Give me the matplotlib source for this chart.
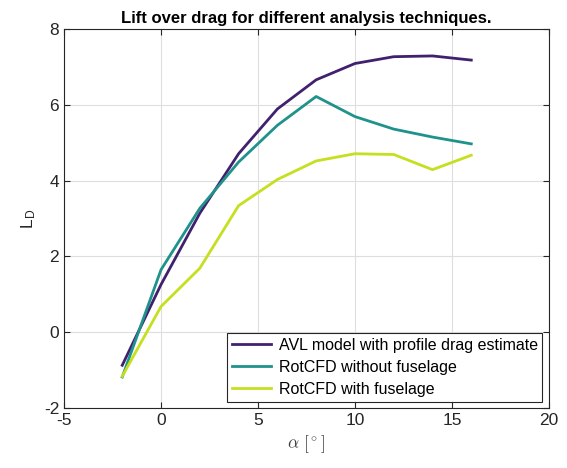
import matplotlib
matplotlib.use('Agg')
import matplotlib.pyplot as plt

# ==================== 数据 ====================
alpha = [-2, 0, 2, 4, 6, 8, 10, 12, 14, 16]
avl = [-0.87, 1.26, 3.14, 4.71, 5.89, 6.66, 7.09, 7.27, 7.29, 7.18]
rot_no_fus = [-1.18, 1.65, 3.27, 4.49, 5.46, 6.22, 5.69, 5.36, 5.15, 4.97]
rot_fus = [-1.16, 0.68, 1.69, 3.34, 4.03, 4.52, 4.71, 4.69, 4.29, 4.67]

labels = ['AVL model with profile drag estimate',
          'RotCFD without fuselage',
          'RotCFD with fuselage']
colors = ['#41206e', '#1f928c', '#c6df1f']

plt.rcParams['font.family'] = ['Liberation Sans', 'DejaVu Sans']
plt.rcParams['mathtext.fontset'] = 'cm'
plt.rcParams['axes.unicode_minus'] = False

fig = plt.figure(figsize=(5.67, 4.68), dpi=100)
ax = fig.add_axes([0.113, 0.128, 0.855, 0.81])

for ys, lab, c in zip([avl, rot_no_fus, rot_fus], labels, colors):
    ax.plot(alpha, ys, color=c, linewidth=2, label=lab)

ax.set_xlim(-5, 20)
ax.set_ylim(-2, 8)
ax.set_xticks([-5, 0, 5, 10, 15, 20])
ax.set_yticks([-2, 0, 2, 4, 6, 8])
ax.grid(True, color='#dedede', linewidth=0.8)
ax.set_axisbelow(True)
ax.tick_params(direction='in', top=True, right=True, labelsize=12.5,
               colors='#262626', length=4)
for sp in ax.spines.values():
    sp.set_color('#262626')
    sp.set_linewidth(0.8)

ax.set_title('Lift over drag for different analysis techniques.',
             fontsize=12, fontweight='bold', pad=4)
ax.set_xlabel(r'$\alpha\ [^\circ]$', fontsize=12.5, color='#404040')
ax.set_ylabel(r'L$_\mathregular{D}$', fontsize=12.5, color='#262626')

leg = ax.legend(loc='lower right', fontsize=11.5, fancybox=False,
                framealpha=1, edgecolor='#262626', borderaxespad=0.4,
                handlelength=2.4, labelspacing=0.45, borderpad=0.3,
                handletextpad=0.5)
leg.get_frame().set_linewidth(0.8)

fig.savefig('out.png', dpi=100)
